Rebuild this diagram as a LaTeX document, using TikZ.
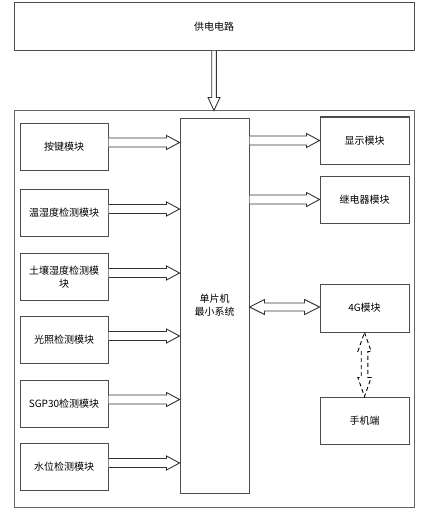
\documentclass[tikz,border=0pt]{standalone}
\usepackage{fontspec}
\setmainfont{Noto Sans CJK SC}
\usetikzlibrary{calc}
\tikzset{
  box/.style={draw=black!70, line width=1pt, fill=white, minimum width=88pt, minimum height=47pt, inner sep=1pt, font=\fontsize{10}{13}\selectfont, align=center},
  harrow/.style={draw=black!80, line width=0.9pt, fill=white, line join=miter},
}
\newcommand{\rarrow}[2]{\draw[harrow] let \p1=(#1), \p2=(#2) in
  (\x1,\y1+4.5pt) -- (\x2-13pt,\y1+4.5pt) -- (\x2-13pt,\y1+7pt) -- (\x2,\y1) -- (\x2-13pt,\y1-7pt) -- (\x2-13pt,\y1-4.5pt) -- (\x1,\y1-4.5pt);}
\begin{document}
\begin{tikzpicture}[x=1pt,y=-1pt]
\useasboundingbox (0,0) rectangle (427,516);
% top
\node[box, minimum width=400pt, minimum height=47.5pt] (top) at (214,26.75) {供电电路};
\node[draw=black!60, line width=1pt, minimum width=400pt, minimum height=396pt, inner sep=0pt] (outer) at (214,309) {};
% left modules
\node[box] (k1) at (64,146.5) {按键模块};
\node[box] (k2) at (64,213) {温湿度检测模块};
\node[box, text width=84pt] (k3) at (64,277) {土壤湿度检测模\\块};
\node[box] (k4) at (64,340) {光照检测模块};
\node[box] (k5) at (64,403.5) {SGP30检测模块};
\node[box] (k6) at (64,467) {水位检测模块};
% center
\node[box, minimum width=69pt, minimum height=375pt] (mcu) at (214.5,305.5) {单片机\\最小系统};
% right modules
\node[box, minimum width=89pt] (r1) at (364.5,140.5) {显示模块};
\node[box, minimum width=89pt] (r2) at (364.5,199.5) {继电器模块};
\node[box, minimum width=89pt, minimum height=48pt] (g4) at (364.5,308) {4G模块};
\node[box, minimum width=89pt] (ph) at (364.5,420.5) {手机端};
% power arrow
\draw[harrow] let \p1=(top.south), \p2=(outer.north) in
  (\x1-2.3pt,\y1) -- (\x1-2.3pt,\y2+13pt) -- (\x1-6pt,\y2+13pt) -- (\x1,\y2) -- (\x1+6pt,\y2+13pt) -- (\x1+2.3pt,\y2+13pt) -- (\x1+2.3pt,\y1);
% left arrows
\rarrow{$(k1.east)+(0,-4)$}{mcu.west}
\rarrow{$(k2.east)+(0,-4)$}{mcu.west}
\rarrow{$(k3.east)+(0,-4)$}{mcu.west}
\rarrow{$(k4.east)+(0,-4)$}{mcu.west}
\rarrow{$(k5.east)+(0,-4)$}{mcu.west}
\rarrow{$(k6.east)+(0,-4)$}{mcu.west}
% right arrows
\rarrow{mcu.east |- r1.west}{r1.west}
\rarrow{mcu.east |- r2.west}{r2.west}
% double arrow mcu <-> 4G
\draw[harrow] let \p1=(mcu.east), \p2=($(g4.west)+(0,-1)$) in
  (\x1,\y2) -- (\x1+15pt,\y2+7.5pt) -- (\x1+15pt,\y2+4pt) -- (\x2-15pt,\y2+4pt) -- (\x2-15pt,\y2+7.5pt) -- (\x2,\y2)
  -- (\x2-15pt,\y2-7.5pt) -- (\x2-15pt,\y2-4pt) -- (\x1+15pt,\y2-4pt) -- (\x1+15pt,\y2-7.5pt) -- cycle;
% dashed double arrow 4G <-> phone
\draw[harrow, draw=black, dash pattern=on 4pt off 3pt] let \p1=(g4.south), \p2=(ph.north) in
  (\x1,\y1) -- (\x1+6.7pt,\y1-19pt) -- (\x1+3.3pt,\y1-19pt) -- (\x1+3.3pt,\y2+19pt) -- (\x1+6.7pt,\y2+19pt) -- (\x1,\y2)
  -- (\x1-6.7pt,\y2+19pt) -- (\x1-3.3pt,\y2+19pt) -- (\x1-3.3pt,\y1-19pt) -- (\x1-6.7pt,\y1-19pt) -- cycle;
\end{tikzpicture}
\end{document}
